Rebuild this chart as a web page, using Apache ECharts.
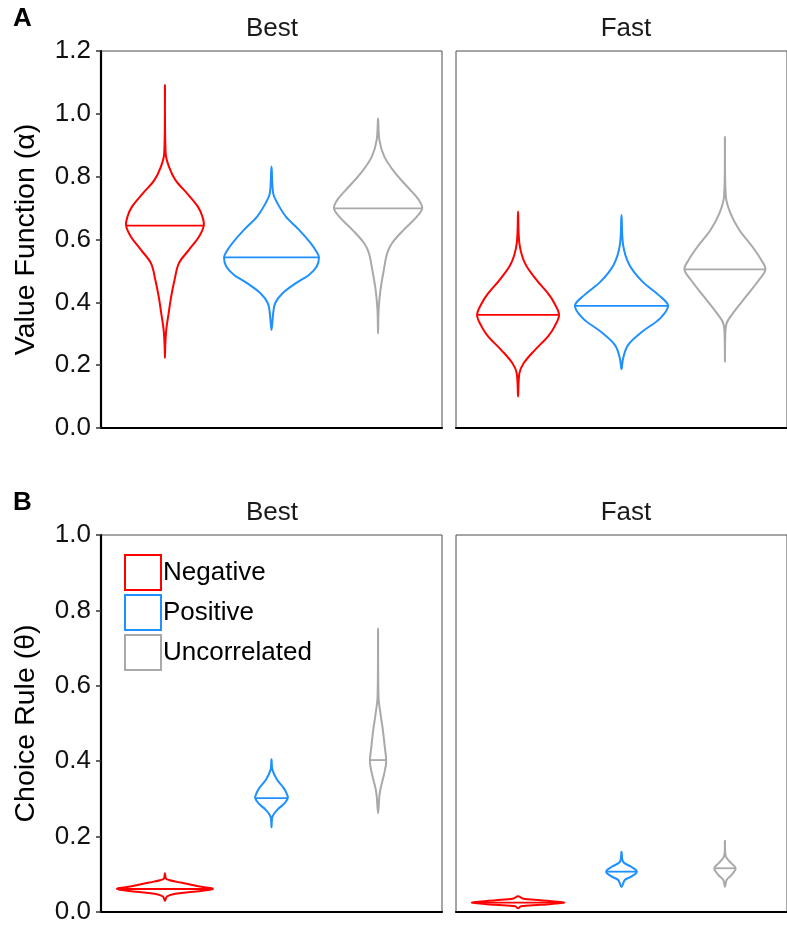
<!DOCTYPE html>
<html>
<head>
<meta charset="utf-8">
<script src="https://cdn.jsdelivr.net/npm/echarts@6/dist/echarts.min.js"></script>
<style>
html,body{margin:0;padding:0;background:#fff;}
#chart{width:787px;height:926px;}
</style>
</head>
<body>
<div id="chart"></div>
<script>
// ---- data ----
const groups = ['Negative', 'Positive', 'Uncorrelated'];
const facets = ['Best', 'Fast'];
const alphaTicks = [0, 0.2, 0.4, 0.6, 0.8, 1.0, 1.2];
const thetaTicks = [0, 0.2, 0.4, 0.6, 0.8, 1.0];

// violin profiles: [value, relative density (1 = widest violin)]
const alphaBestNegative = [[1.092,0],[0.874,0.015],[0.832,0.083],[0.789,0.22],[0.747,0.46],[0.704,0.69],[0.673,0.78],[0.644,0.81],[0.609,0.71],[0.567,0.5],[0.524,0.29],[0.471,0.2],[0.418,0.13],[0.365,0.077],[0.312,0.027],[0.259,0.006],[0.223,0]];
const alphaBestPositive = [[0.832,0],[0.747,0.035],[0.715,0.125],[0.673,0.30],[0.630,0.58],[0.588,0.82],[0.561,0.94],[0.543,0.99],[0.513,0.94],[0.487,0.78],[0.461,0.51],[0.429,0.23],[0.397,0.076],[0.365,0.035],[0.312,0]];
const alphaBestUncorrelated = [[0.986,0],[0.917,0.028],[0.864,0.13],[0.811,0.36],[0.758,0.67],[0.726,0.85],[0.699,0.92],[0.673,0.81],[0.630,0.53],[0.588,0.29],[0.556,0.19],[0.503,0.12],[0.439,0.05],[0.376,0.012],[0.301,0]];
const alphaFastNegative = [[0.689,0],[0.588,0.028],[0.524,0.15],[0.471,0.40],[0.429,0.64],[0.397,0.78],[0.360,0.88],[0.322,0.78],[0.291,0.64],[0.248,0.36],[0.206,0.12],[0.174,0.028],[0.100,0]];
const alphaFastPositive = [[0.678,0],[0.582,0.035],[0.519,0.17],[0.466,0.45],[0.423,0.80],[0.389,1.0],[0.349,0.83],[0.307,0.45],[0.264,0.14],[0.222,0.035],[0.187,0]];
const alphaFastUncorrelated = [[0.927,0],[0.736,0.02],[0.683,0.12],[0.630,0.31],[0.577,0.59],[0.535,0.78],[0.505,0.87],[0.471,0.73],[0.418,0.45],[0.365,0.17],[0.333,0.035],[0.280,0.005],[0.211,0]];
const thetaBestNegative = [[0.103,0],[0.089,0.02],[0.085,0.08],[0.078,0.33],[0.069,0.67],[0.061,1.0],[0.054,0.60],[0.048,0.19],[0.041,0.04],[0.030,0]];
const thetaBestPositive = [[0.405,0],[0.377,0.02],[0.350,0.12],[0.328,0.26],[0.310,0.33],[0.302,0.34],[0.288,0.27],[0.271,0.12],[0.253,0.02],[0.225,0]];
const thetaBestUncorrelated = [[0.752,0],[0.571,0.01],[0.527,0.05],[0.483,0.10],[0.438,0.14],[0.399,0.17],[0.368,0.13],[0.332,0.06],[0.310,0.03],[0.262,0]];
const thetaFastNegative = [[0.042,0],[0.036,0.1],[0.031,0.48],[0.025,1.0],[0.019,0.48],[0.015,0.06],[0.010,0]];
const thetaFastPositive = [[0.160,0],[0.133,0.035],[0.120,0.21],[0.107,0.33],[0.094,0.21],[0.085,0.07],[0.066,0]];
const thetaFastUncorrelated = [[0.189,0],[0.147,0.02],[0.129,0.14],[0.116,0.23],[0.098,0.14],[0.085,0.035],[0.067,0]];

const alphaBestMedians = [0.644, 0.543, 0.699];
const alphaFastMedians = [0.360, 0.389, 0.505];
const thetaBestMedians = [0.061, 0.302, 0.403];
const thetaFastMedians = [0.025, 0.107, 0.116];

// ---- styling ----
const COLORS = ['#FF0000', '#1E90FF', '#A9A9A9'];
const FONT = '"Liberation Sans", Arial, sans-serif';
const HALF = 0.45; // max half-width in category units

const panels = [
  { profiles: [alphaBestNegative, alphaBestPositive, alphaBestUncorrelated], medians: alphaBestMedians },
  { profiles: [alphaFastNegative, alphaFastPositive, alphaFastUncorrelated], medians: alphaFastMedians },
  { profiles: [thetaBestNegative, thetaBestPositive, thetaBestUncorrelated], medians: thetaBestMedians },
  { profiles: [thetaFastNegative, thetaFastPositive, thetaFastUncorrelated], medians: thetaFastMedians }
];

function densityAt(profile, v) {
  for (let i = 0; i < profile.length - 1; i++) {
    const a = profile[i], b = profile[i + 1];
    if ((v <= a[0] && v >= b[0])) {
      const t = (a[0] - v) / (a[0] - b[0]);
      return a[1] + t * (b[1] - a[1]);
    }
  }
  return 0;
}

const grids = [
  { left: 101, top: 51, width: 341, height: 377 },
  { left: 456, top: 51, width: 341, height: 377 },
  { left: 101, top: 535, width: 341, height: 377 },
  { left: 456, top: 535, width: 341, height: 377 }
].map(g => Object.assign({ show: true, borderColor: '#4d4d4d', borderWidth: 1, backgroundColor: '#fff' }, g));

const xAxes = grids.map((g, i) => ({
  type: 'value', gridIndex: i, min: 0.4, max: 3.6,
  axisLine: { show: true, onZero: false, lineStyle: { color: '#000', width: 2.2 } },
  axisTick: { show: false }, axisLabel: { show: false }, splitLine: { show: false }
}));

const yAxes = grids.map((g, i) => {
  const isAlpha = i < 2;
  const isLeft = i % 2 === 0;
  const ticks = isAlpha ? alphaTicks : thetaTicks;
  return {
    type: 'value', gridIndex: i, min: ticks[0], max: ticks[ticks.length - 1], interval: 0.2,
    show: isLeft,
    name: isLeft ? (isAlpha ? 'Value Function (\u03b1)' : 'Choice Rule (\u03b8)') : '',
    nameLocation: 'middle', nameRotate: 90, nameGap: 60,
    nameTextStyle: { fontFamily: FONT, fontSize: 28.5, color: '#000' },
    axisLine: { show: true, onZero: false, lineStyle: { color: '#000', width: 2.2 } },
    axisTick: { show: true, length: 5, lineStyle: { color: '#333', width: 1.5 } },
    axisLabel: { margin: 10, fontFamily: FONT, fontSize: 26, color: '#111', formatter: v => v.toFixed(1) },
    splitLine: { show: false }
  };
});

const series = [];
panels.forEach((p, gi) => {
  p.profiles.forEach((profile, k) => {
    const pos = k + 1;
    const median = p.medians[k];
    series.push({
      type: 'custom', name: groups[k], xAxisIndex: gi, yAxisIndex: gi,
      itemStyle: { color: COLORS[k] },
      data: [[pos, median]],
      clip: true,
      renderItem: function (params, api) {
        const right = profile.map(([v, d]) => api.coord([pos + d * HALF, v]));
        const left = profile.slice(1, -1).reverse().map(([v, d]) => api.coord([pos - d * HALF, v]));
        const dm = densityAt(profile, median) * HALF;
        const m1 = api.coord([pos - dm, median]);
        const m2 = api.coord([pos + dm, median]);
        return {
          type: 'group',
          children: [
            { type: 'polygon', shape: { points: right.concat(left), smooth: 0.35 },
              style: { fill: 'none', stroke: COLORS[k], lineWidth: 2 } },
            { type: 'line', shape: { x1: m1[0], y1: m1[1], x2: m2[0], y2: m2[1] },
              style: { stroke: COLORS[k], lineWidth: 1.8 } }
          ]
        };
      }
    });
  });
});

function txt(text, x, y, opts) {
  return { type: 'text', x: x, y: y, style: Object.assign({
    text: text, fontFamily: FONT, fontSize: 26, fill: '#1a1a1a',
    textAlign: 'center', textVerticalAlign: 'middle'
  }, opts || {}) };
}
const graphic = [
  txt('A', 13, 19, { fontWeight: 'bold', fill: '#000', textAlign: 'left' }),
  txt('B', 13, 503, { fontWeight: 'bold', fill: '#000', textAlign: 'left' }),
  txt(facets[0], 272, 29),
  txt(facets[1], 626, 29),
  txt(facets[0], 272, 513),
  txt(facets[1], 626, 513)
];

const chart = echarts.init(document.getElementById('chart'), null, { renderer: 'canvas' });
chart.setOption({
  animation: false,
  backgroundColor: '#fff',
  grid: grids,
  xAxis: xAxes,
  yAxis: yAxes,
  legend: {
    orient: 'vertical', left: 124, top: 554, padding: 0,
    itemWidth: 36, itemHeight: 35, itemGap: 3, icon: 'rect',
    selectedMode: false,
    textStyle: { fontFamily: FONT, fontSize: 26, color: '#000', padding: [0, 0, 0, -3] },
    data: groups.map((g, k) => ({ name: g, itemStyle: { color: '#fff', borderColor: COLORS[k], borderWidth: 2 } }))
  },
  series: series,
  graphic: graphic
});
</script>
</body>
</html>
